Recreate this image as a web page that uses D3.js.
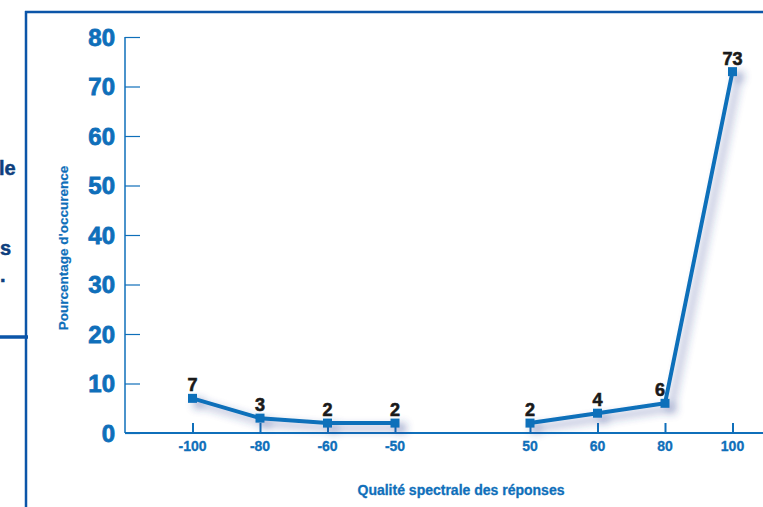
<!DOCTYPE html>
<html>
<head>
<meta charset="utf-8">
<script src="https://cdn.jsdelivr.net/npm/d3@7/dist/d3.min.js"></script>
<style>
  html, body { margin: 0; padding: 0; background: #ffffff; }
  svg { display: block; }
  text { font-family: "Liberation Sans", Arial, sans-serif; font-weight: bold; }
</style>
</head>
<body>
<svg id="chart" width="763" height="507"></svg>
<script>
// Response spectral quality classes (one empty slot separates negatives from positives)
const categories = ["-100", "-80", "-60", "-50", "", "50", "60", "80", "100"];
// Percentage of occurrence for each class
const values = [7, 3, 2, 2, null, 2, 4, 6, 73];
// Y-axis tick values
const yTicks = [0, 10, 20, 30, 40, 50, 60, 70, 80];

const W = 763, H = 507;
const blue = "#0f6fba";
const frame = "#0b55a8";

const svg = d3.select("#chart");

// Drop shadow under the data line
const defs = svg.append("defs");
const f = defs.append("filter").attr("id", "shadow")
  .attr("x", "-20%").attr("y", "-20%").attr("width", "140%").attr("height", "140%");
f.append("feGaussianBlur").attr("in", "SourceAlpha").attr("stdDeviation", 4.5).attr("result", "b");
f.append("feOffset").attr("in", "b").attr("dx", 6).attr("dy", 5).attr("result", "o");
f.append("feFlood").attr("flood-color", "#2a3f8f").attr("flood-opacity", 0.5);
f.append("feComposite").attr("in2", "o").attr("operator", "in").attr("result", "s");
const m = f.append("feMerge");
m.append("feMergeNode").attr("in", "s");
m.append("feMergeNode").attr("in", "SourceGraphic");

// Page frame pieces
svg.append("line").attr("x1", 26).attr("x2", 26).attr("y1", 11).attr("y2", H)
  .attr("stroke", frame).attr("stroke-width", 2.5);
svg.append("line").attr("x1", 25).attr("x2", W).attr("y1", 12).attr("y2", 12)
  .attr("stroke", frame).attr("stroke-width", 2.5);
svg.append("line").attr("x1", 0).attr("x2", 28).attr("y1", 337).attr("y2", 337)
  .attr("stroke", frame).attr("stroke-width", 3.5);

// Text fragments from the adjacent column
const frag = svg.append("g").attr("fill", "#0e3f7e").style("font-size", "20px")
  .attr("stroke", "#0e3f7e").attr("stroke-width", 0.5);
frag.append("text").attr("x", -1).attr("y", 175).text("le");
frag.append("text").attr("x", 0).attr("y", 255).text("s");
frag.append("text").attr("x", 0).attr("y", 282).text(".");

// Scales
const x = d3.scalePoint().domain(categories).range([125, 800]).padding(1);
const y = d3.scaleLinear().domain([0, 80]).range([433, 37]);

// Y axis
const yAxis = svg.append("g").attr("transform", "translate(125,0)")
  .call(d3.axisRight(y).tickValues(yTicks).tickSize(15).tickFormat(""));
yAxis.select(".domain").remove();
yAxis.selectAll(".tick line").attr("stroke", blue).attr("stroke-width", 1.2);
svg.append("line").attr("x1", 125).attr("x2", 125).attr("y1", y(80)).attr("y2", y(0))
  .attr("stroke", blue).attr("stroke-width", 1.5);

svg.append("g").selectAll("text").data(yTicks).join("text")
  .attr("x", 115).attr("y", d => y(d)).attr("dy", "0.36em")
  .attr("text-anchor", "end").attr("fill", blue).style("font-size", "24px")
  .attr("stroke", blue).attr("stroke-width", 0.8)
  .text(d => d);

// X axis
svg.append("line").attr("x1", 125).attr("x2", W).attr("y1", y(0)).attr("y2", y(0))
  .attr("stroke", blue).attr("stroke-width", 2);
const xCats = categories.filter(c => c !== "");
const xAxis = svg.append("g").attr("transform", `translate(0,${y(0)})`)
  .call(d3.axisTop(x).tickValues(xCats).tickSize(10).tickFormat(""));
xAxis.select(".domain").remove();
xAxis.selectAll(".tick line").attr("stroke", blue).attr("stroke-width", 2);

svg.append("g").selectAll("text").data(xCats).join("text")
  .attr("x", d => x(d)).attr("y", 451)
  .attr("text-anchor", "middle").attr("fill", blue).style("font-size", "14px")
  .attr("stroke", blue).attr("stroke-width", 0.3)
  .text(d => d);

// Axis titles
svg.append("text").attr("x", 461).attr("y", 495).attr("text-anchor", "middle")
  .attr("fill", blue).style("font-size", "14px")
  .attr("stroke", blue).attr("stroke-width", 0.3)
  .text("Qualité spectrale des réponses");
svg.append("text").attr("transform", "translate(68,248) rotate(-90)")
  .attr("text-anchor", "middle").attr("fill", blue).style("font-size", "13.5px")
  .attr("stroke", blue).attr("stroke-width", 0.2)
  .text("Pourcentage d'occurence");

// Data line and markers
const pts = categories.map((c, i) => ({ c, v: values[i] }));
const line = d3.line().defined(d => d.v !== null).x(d => x(d.c)).y(d => y(d.v));
const series = svg.append("g").attr("filter", "url(#shadow)");
series.append("path").datum(pts).attr("d", line)
  .attr("fill", "none").attr("stroke", blue).attr("stroke-width", 4)
  .attr("stroke-linejoin", "round");
const valid = pts.filter(d => d.v !== null);
series.selectAll("rect").data(valid).join("rect")
  .attr("x", d => x(d.c) - 4.5).attr("y", d => y(d.v) - 4.5)
  .attr("width", 9).attr("height", 9).attr("fill", blue);

// Value labels
svg.append("g").selectAll("text").data(valid).join("text")
  .attr("x", d => x(d.c) + (d.c === "80" ? -5 : 0))
  .attr("y", d => y(d.v) - 7)
  .attr("text-anchor", "middle").attr("fill", "#1a1a1a").style("font-size", "18px")
  .attr("stroke", "#1a1a1a").attr("stroke-width", 0.6)
  .text(d => d.v);
</script>
</body>
</html>
